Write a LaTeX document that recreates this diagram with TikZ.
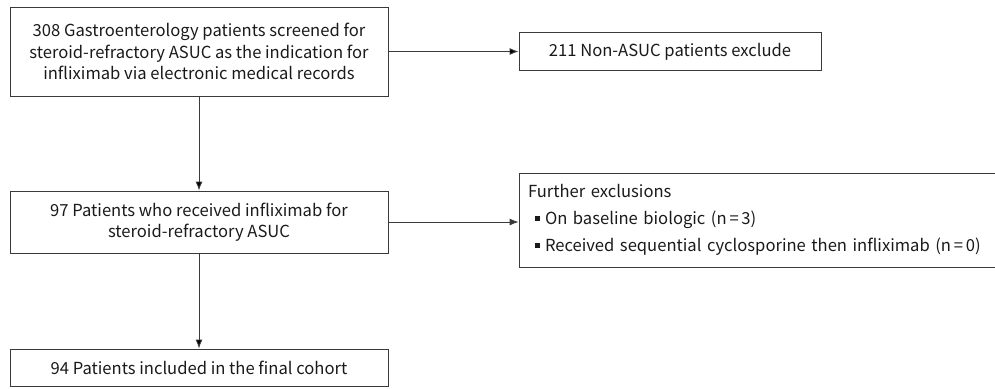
\documentclass[tikz,border=0pt]{standalone}
\usepackage{fontspec}
\setmainfont{Noto Sans CJK KR}
\usepackage{tikz}
\usetikzlibrary{arrows.meta,positioning}
\definecolor{lineGray}{HTML}{3A3A3A}
\definecolor{textGray}{HTML}{1A1A1A}
\newcommand{\sqbullet}{\raisebox{3.5pt}{\rule{5pt}{5pt}}\hspace{5pt}}

\begin{document}
\begin{tikzpicture}[x=1pt, y=1pt, on grid, node distance=100pt,
    box/.style={draw=lineGray, line width=0.9pt, text=textGray, inner sep=0pt,
      align=center, font=\fontsize{16.6}{21.5}\selectfont},
    flow/.style={draw=lineGray, line width=0.9pt, -{Latex[length=9pt,width=7pt]}}]
        \useasboundingbox (0,0) rectangle (995,-388);

        \node[box, minimum width=378pt, minimum height=89pt] (screen) at (199,-51.5)
          {308 Gastroenterology patients screened for\\steroid-refractory ASUC as the indication for\\infliximab via electronic medical records};
        \node[box, minimum width=302pt, minimum height=38pt, right=471pt of screen] (nonasuc)
          {211 Non-ASUC patients exclude};
        \node[box, minimum width=378pt, minimum height=62pt, below=170.5pt of screen] (treated)
          {97 Patients who received infliximab for\\steroid-refractory ASUC};
        \node[box, minimum width=511pt, minimum height=94pt, right=575.5pt of treated, yshift=2pt,
          align=left, text width=493pt, font=\fontsize{16.6}{27}\selectfont] (further)
          {Further exclusions\\
           \hspace{7pt}\sqbullet On baseline biologic (n\,=\,3)\\
           \hspace{7pt}\sqbullet Received sequential cyclosporine then infliximab (n\,=\,0)};
        \node[box, minimum width=378pt, minimum height=37pt, below=145.5pt of treated] (cohort)
          {94 Patients included in the final cohort};

        \path[flow] (screen) edge (nonasuc)
          (screen) edge (treated);

        \draw[flow] (treated.east) -- (treated.east -| further.west);
        \path[flow] (treated) edge (cohort);
\end{tikzpicture}
\end{document}
